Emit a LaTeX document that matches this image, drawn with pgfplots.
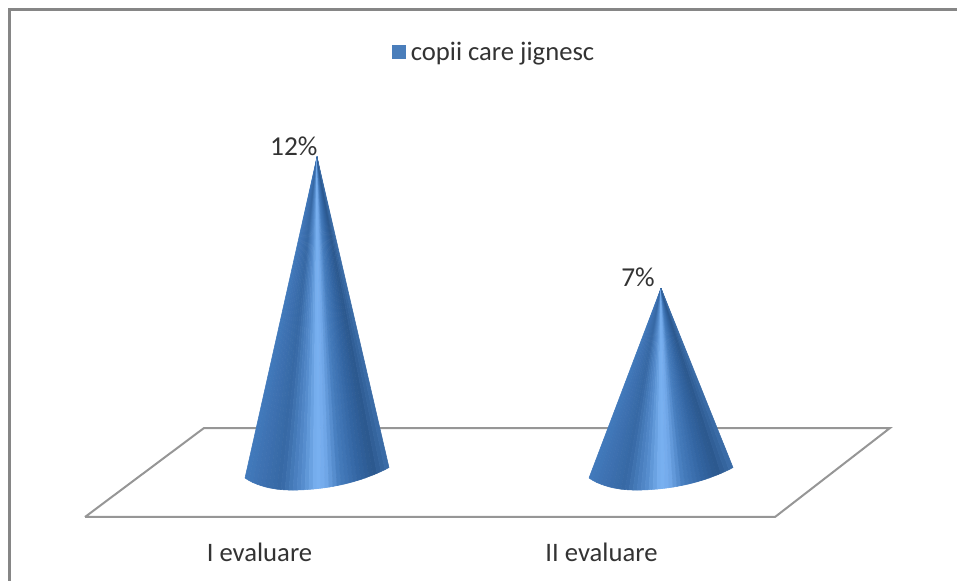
\documentclass[border=0pt]{standalone}
\usepackage{fontspec}
\setmainfont{Carlito}
\usepackage{pgfplots}
\usepackage{pgfplotstable}
\pgfplotsset{compat=1.18}

% x is in picture columns (cones at 317 and 661), y is the percentage
\pgfplotstableread{
x y
245 -0.229
249 -0.324
253 -0.404
257 -0.465
261 -0.518
265 -0.564
269 -0.602
273 -0.629
277 -0.655
281 -0.670
285 -0.682
289 -0.686
293 -0.686
297 -0.686
301 -0.682
305 -0.674
309 -0.663
313 -0.651
317 -0.636
321 -0.617
325 -0.598
329 -0.575
333 -0.549
337 -0.518
341 -0.488
345 -0.453
349 -0.415
353 -0.373
357 -0.328
361 -0.282
365 -0.229
369 -0.171
373 -0.114
377 -0.050
381 0.019
385 0.091
389 0.171
317 12
}\coneA

\pgfplotstableread{
x y
589 -0.229
593 -0.324
597 -0.404
601 -0.465
605 -0.518
609 -0.564
613 -0.602
617 -0.629
621 -0.655
625 -0.670
629 -0.682
633 -0.686
637 -0.686
641 -0.686
645 -0.682
649 -0.674
653 -0.663
657 -0.651
661 -0.636
665 -0.617
669 -0.598
673 -0.575
677 -0.549
681 -0.518
685 -0.488
689 -0.453
693 -0.415
697 -0.373
701 -0.328
705 -0.282
709 -0.229
713 -0.171
717 -0.114
721 -0.050
725 0.019
729 0.091
733 0.171
661 7
}\coneB

% wedges from each pair of base points up to the tip (row 37), last column is the shade
\pgfplotsset{wedges/.style={
  table/row sep=\\,
  patch table with point meta={
    0 1 37 0.014\\1 2 37 0.042\\2 3 37 0.069\\3 4 37 0.097\\4 5 37 0.125\\5 6 37 0.153\\
    6 7 37 0.181\\7 8 37 0.208\\8 9 37 0.236\\9 10 37 0.264\\10 11 37 0.292\\11 12 37 0.319\\
    12 13 37 0.347\\13 14 37 0.375\\14 15 37 0.403\\15 16 37 0.431\\16 17 37 0.458\\17 18 37 0.486\\
    18 19 37 0.514\\19 20 37 0.542\\20 21 37 0.569\\21 22 37 0.597\\22 23 37 0.625\\23 24 37 0.653\\
    24 25 37 0.681\\25 26 37 0.708\\26 27 37 0.736\\27 28 37 0.764\\28 29 37 0.792\\29 30 37 0.819\\
    30 31 37 0.847\\31 32 37 0.875\\32 33 37 0.903\\33 34 37 0.931\\34 35 37 0.958\\35 36 37 0.986\\}
}}

\definecolor{legblue}{RGB}{74,126,187}
\definecolor{framegray}{RGB}{134,134,134}
\definecolor{floorgray}{RGB}{150,150,150}

\begin{document}
\begin{tikzpicture}
\begin{axis}[
  scale only axis,
  width=717.75pt,
  height=435.75pt,
  xmin=0, xmax=957,
  ymin=-4.152, ymax=17.981,
  axis line style={draw=none},
  tick style={draw=none},
  ytick=\empty,
  xtick={259.5,601.5},
  xticklabels={I evaluare,II evaluare},
  x tick label style={font=\fontsize{20}{22}\selectfont, text=black!80, yshift=32pt},
  point meta min=0, point meta max=1,
  colormap={cone}{
    rgb255(0cm)=(66,122,188);
    rgb255(10cm)=(62,114,178);
    rgb255(25cm)=(54,104,164);
    rgb255(40cm)=(85,140,205);
    rgb255(50cm)=(122,178,242);
    rgb255(56cm)=(115,170,235);
    rgb255(66cm)=(70,125,190);
    rgb255(80cm)=(50,100,160);
    rgb255(90cm)=(44,88,142);
    rgb255(100cm)=(60,110,170)
  },
  legend style={
    at={(axis cs:496,16)}, anchor=center,
    draw=none, fill=none,
    font=\fontsize{20}{22}\selectfont,
    text=black!80,
    nodes={inner xsep=4pt},
    legend cell align=left
  },
]
\addlegendimage{only marks, mark=square*, mark size=4.9pt, color=legblue}
\addlegendentry{copii care jignesc}

% frame, open at the right and at the bottom as in the screenshot
\addplot[forget plot, framegray, line width=2.25pt]
  coordinates {(957,17.6) (9,17.6) (9,-4.152)};
% floor
\addplot[forget plot, floorgray, line width=1.5pt]
  coordinates {(85,-1.714) (775,-1.714) (890,1.676) (204,1.676) (85,-1.714)};

% cones
\addplot[forget plot, patch, patch type=triangle, shader=flat, wedges]
  table[x=x, y=y] {\coneA};
\addplot[forget plot, patch, patch type=triangle, shader=flat, wedges]
  table[x=x, y=y] {\coneB};

% value labels
\addplot[forget plot, only marks, mark=none, point meta=y,
  nodes near coords={\pgfmathprintnumber[assume math mode=true]{\pgfplotspointmeta}\%},
  every node near coord/.append style={anchor=south east, inner sep=0pt,
    font=\fontsize{20.5}{22}\selectfont, text=black!80, xshift=0.5pt, yshift=1pt}]
  coordinates {(317,12)};
\addplot[forget plot, only marks, mark=none, point meta=y,
  nodes near coords={\pgfmathprintnumber[assume math mode=true]{\pgfplotspointmeta}\%},
  every node near coord/.append style={anchor=south east, inner sep=0pt,
    font=\fontsize{20.5}{22}\selectfont, text=black!80, xshift=-4.5pt, yshift=1pt}]
  coordinates {(661,7)};
\end{axis}
\end{tikzpicture}
\end{document}
